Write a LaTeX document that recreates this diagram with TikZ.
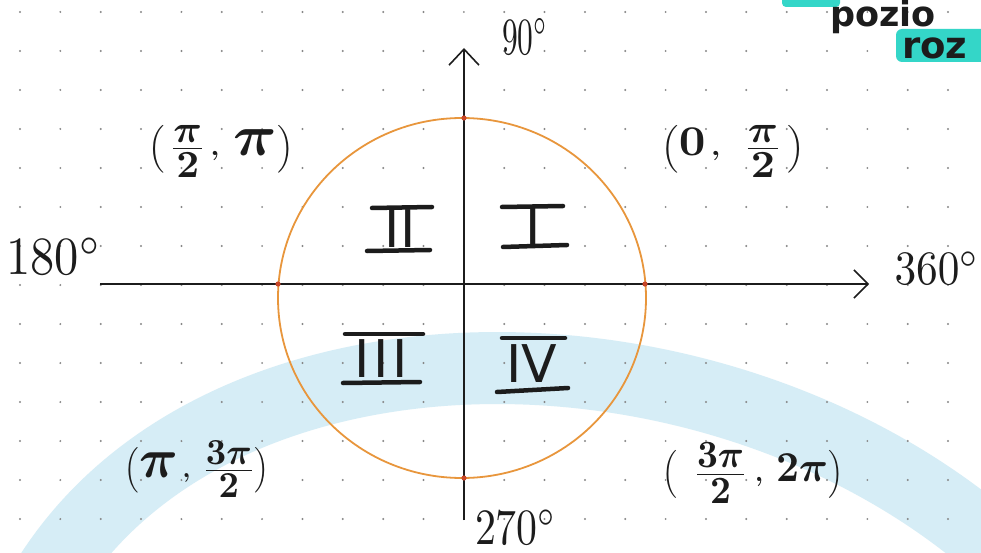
\documentclass[tikz,border=0pt]{standalone}
\usepackage{fontspec}
\usepackage{amsmath}
\usepackage{graphicx}
\usetikzlibrary{arrows.meta,calc}
\newfontfamily\rnfont{DejaVu Sans}
\newfontfamily\mkfont{DejaVu Sans}
\definecolor{bandblue}{RGB}{214,237,246}
\definecolor{dotc}{RGB}{135,135,135}
\definecolor{orng}{RGB}{232,150,60}
\definecolor{ink}{RGB}{28,28,28}
\definecolor{hl}{RGB}{52,214,200}
\definecolor{reddot}{RGB}{200,70,40}
\newcommand{\sym}[2]{\scalebox{#1}{$#2$}}
\newcommand{\hfr}[2]{\tfrac{\sym{1.45}{#1}\rule[-2pt]{0pt}{0pt}}{\rule{0pt}{10pt}\sym{1.45}{#2}}}
\begin{document}
\begin{tikzpicture}[x=1pt,y=-1pt,
  axis/.style={draw=ink, line width=1.6pt},
  rbar/.style={draw=ink, line width=4.5pt, line cap=round},
  rnum/.style={inner sep=0pt, text=ink, font=\rnfont\fontsize{52}{52}\selectfont},
  lab/.style={inner sep=0pt, text=ink, font=\boldmath},
  deg/.style={inner sep=0pt, text=ink},
  mark text/.style={anchor=base west, inner sep=0pt, text=ink, font=\mkfont\bfseries},
  ]
\path[use as bounding box] (0,0) rectangle (981,553);
\clip (0,0) rectangle (981,553);
\fill[white] (0,0) rectangle (981,553);
% blue band
\draw[bandblue, line width=72pt] (30,610) .. controls (190,290) and (750,295) .. (1030,580);
% dot grid
\foreach \i in {0,...,23}{\foreach \j in {0,...,13}{\fill[dotc] (20+40.35*\i,12+39*\j) circle (1.1);}}
% highlighted heading
\fill[hl, rounded corners=4] (782,-10) rectangle (840,7);
\fill[hl, rounded corners=6] (896,29) rectangle (990,62);
\node[mark text, font=\mkfont\bfseries\fontsize{35}{35}\selectfont] (t1) at (830,27) {pozio};
\node[mark text, font=\mkfont\bfseries\fontsize{37}{37}\selectfont] (t2) at (902,59) {roz};
% circle
\coordinate (O) at (462,298);
\draw[orng, line width=1.8pt] (O) ellipse [x radius=184, y radius=180];
% axes
\coordinate (xl) at (100,284);
\coordinate (xr) at (869,284);
\coordinate (yb) at (464,520);
\coordinate (yt) at (464,48);
\draw[axis, -{Straight Barb[length=14pt,width=28pt]}] (xl) -- (xr);
\draw[axis, -{Straight Barb[length=16pt,width=30pt]}] (yb) -- (yt);
\foreach \p in {(278,284),(645,284),(464,118),(464,478)}{\fill[reddot] \p circle (2.6);}
% quadrant numerals
\node[rnum] (q1) at (533,227) {I};
\draw[rbar] (502,207) -- (563,206);
\draw[rbar] (503,247) -- (567,245);
\node[rnum] (q2) at (400,229) {I\kern1pt I};
\draw[rbar] (372,208) -- (432,207);
\draw[rbar] (367,251) -- (430,250);
\node[rnum] (q3) at (381,359) {I\kern4pt I\kern4pt I};
\draw[rbar] (345,334) -- (423,334);
\draw[rbar] (343,383) -- (420,382);
\node[rnum] (q4) at (532,364) {IV};
\draw[rbar] (502,338) -- (565,338);
\draw[rbar] (497,392) -- (568,388);
% interval labels
\node[lab] (p1) at (221,151) {\resizebox*{145pt}{52pt}{$\Bigl(\,\hfr{\pi}{2}\,,\;\sym{2.2}{\pi}\Bigr)$}};
\node[lab] (p2) at (733,151) {\resizebox*{143pt}{52pt}{$\Bigl(\sym{1.6}{0}\,,\;\;\hfr{\pi}{2}\,\Bigr)$}};
\node[lab] (p3) at (197,469) {\resizebox*{145pt}{57pt}{$\Bigl(\sym{2.2}{\pi}\,,\;\hfr{3\pi}{2}\Bigr)$}};
\node[lab] (p4) at (753,473) {\resizebox*{180pt}{60pt}{$\Bigl(\;\;\hfr{3\pi}{2}\;,\;\sym{1.6}{2\pi}\Bigr)$}};
% angle labels
\node[deg] (d90) at (525,36) {\resizebox*{46pt}{36pt}{$90^{\circ}$}};
\node[deg] (d180) at (54,256) {\resizebox*{95pt}{37pt}{$180^{\circ}$}};
\node[deg] (d360) at (937,268) {\resizebox*{85pt}{33pt}{$360^{\circ}$}};
\node[deg] (d270) at (516,527) {\resizebox*{82pt}{35pt}{$270^{\circ}$}};
\end{tikzpicture}
\end{document}
